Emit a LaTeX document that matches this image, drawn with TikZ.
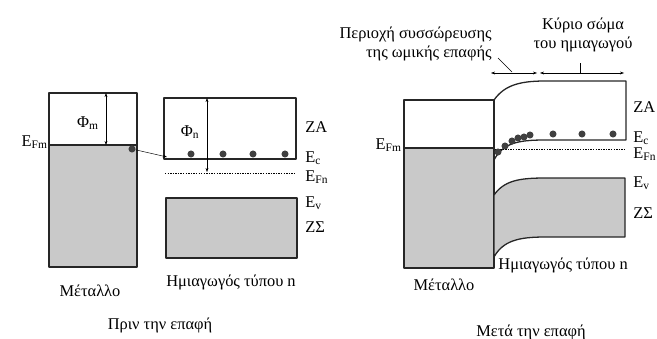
\documentclass[tikz,border=0pt]{standalone}
\usepackage{fontspec}
\setmainfont{Liberation Serif}
\usetikzlibrary{arrows.meta,positioning}
\tikzset{
  band/.style={draw=black!85, line width=1.1pt},
  fband/.style={band, fill=gray!42},
  lvl/.style={anchor=west, inner sep=1pt, font=\fontsize{14}{15.5}\selectfont},
  lbl/.style={inner sep=1pt, font=\fontsize{14}{15.5}\selectfont},
  edot/.style={circle, fill=black!75, inner sep=0pt, minimum size=6pt},
  fermi/.style={line width=0.5pt, dash pattern=on 1.2pt off 1pt},
  dim/.style={line width=0.4pt, {Stealth[length=3.5pt,width=2.5pt]}-{Stealth[length=3.5pt,width=2.5pt]}},
  ptr/.style={line width=0.4pt, -{Stealth[length=3.5pt,width=2.5pt]}},
  every picture/.append style={line join=round}
}

\begin{document}
\begin{tikzpicture}[x=0.3mm,y=-0.3mm]
  \useasboundingbox (0,0) rectangle (657,338);
  % before contact: metal
  \fill[gray!42] (49,145) rectangle (137,267);
  \draw[band] (49,93) rectangle (137,267);
  \draw[band] (49,145) -- (137,145);
  \node[lbl, anchor=east] (efmA) at (49,142) {E\textsubscript{Fm}};
  \coordinate (mvac) at (106,93);
  \coordinate (mfl) at (106,145);
  \draw[dim] (mvac) -- (mfl);
  \node[lbl] (phim) at (88,123) {Φ\textsubscript{m}};
  \node[edot] (mdot) at (132,149) {};
  % before contact: n-type semiconductor
  \draw[band] (164,98) rectangle (296,159);
  \draw[fermi] (165,173) -- (296,173);
  \draw[fband] (166,198) rectangle (297,258);
  \coordinate (svac) at (207,98);
  \coordinate (sfl) at (207,172);
  \draw[dim] (svac) -- (sfl);
  \node[lbl] (phin) at (190,132) {Φ\textsubscript{n}};
  \coordinate (ecA) at (167,157);
  \draw[ptr] (mdot) -- (ecA);
  \foreach \x in {191,223,253,285} \node[edot] at (\x,154) {};
  \node[lvl] (zaA) at (304,127) {ΖΑ};
  \node[lvl] (ecLA) at (304,158) {E\textsubscript{c}};
  \node[lvl] (efnA) at (304,177) {E\textsubscript{Fn}};
  \node[lvl] (evA) at (304,203) {E\textsubscript{v}};
  \node[lvl] (zsA) at (304,227) {ΖΣ};
  \node[lbl] (metA) at (90,291) {Μέταλλο};
  \node[lbl] (semA) at (231,282) {Ημιαγωγός τύπου n};
  \node[lbl] (capA) at (160,325) {Πριν την επαφή};

  % after contact: metal
  \fill[gray!42] (404,148) rectangle (494,268);
  \draw[band] (404,100) rectangle (494,268);
  \draw[band] (404,148) -- (494,148);
  \node[lbl, anchor=east] (efmB) at (403,145) {E\textsubscript{Fm}};
  % after contact: bent bands
  \draw[band] (494,100) .. controls (504,86) and (518,81) .. (545,81) -- (626,81)
    -- (626,140) -- (545,140) .. controls (518,140) and (503,143) .. (494,160);
  \draw[fermi] (495,149) -- (626,149);
  \draw[fband] (494,195) .. controls (504,181) and (518,178) .. (545,178) -- (625,178)
    -- (625,237) -- (545,237) .. controls (518,237) and (503,241) .. (494,257) -- cycle;
  \foreach \x/\y in {498/152,505/146,512/141,518/138,524/137,530/135,553/134,582/134,613/134}
    \node[edot] at (\x,\y) {};
  \node[lvl] (zaB) at (632,107) {ΖΑ};
  \node[lvl] (ecLB) at (632,138) {E\textsubscript{c}};
  \node[lvl] (efnB) at (632,154) {E\textsubscript{Fn}};
  \node[lvl] (evB) at (632,183) {E\textsubscript{v}};
  \node[lvl] (zsB) at (632,213) {ΖΣ};
  \node[lbl] (metB) at (444,285) {Μέταλλο};
  \node[lbl, anchor=west] (semB) at (497,265) {Ημιαγωγός τύπου n};
  \node[lbl] (capB) at (531,332) {Μετά την επαφή};
  % region labels
  \node[lbl, align=right, anchor=north east] (acc) at (493,26)
    {Περιοχή συσσώρευσης\\της ωμικής επαφής};
  \node[lbl, align=center] (bulk) at (583,35) {Κύριο σώμα\\του ημιαγωγού};
  \coordinate (accL) at (491,73);
  \coordinate (accR) at (537,73);
  \coordinate (bulkL) at (540,73);
  \coordinate (bulkR) at (624,73);
  \draw[dim] (accL) -- (accR);
  \draw[dim] (bulkL) -- (bulkR);
  \coordinate (accP) at (498,58);
  \coordinate (accQ) at (512,72);
  \draw[line width=0.4pt] (accP) -- (accQ);
  \coordinate (bulkP) at (580,63);
  \coordinate (bulkQ) at (580,73);
  \draw[line width=0.4pt] (bulkP) -- (bulkQ);
\end{tikzpicture}
\end{document}
